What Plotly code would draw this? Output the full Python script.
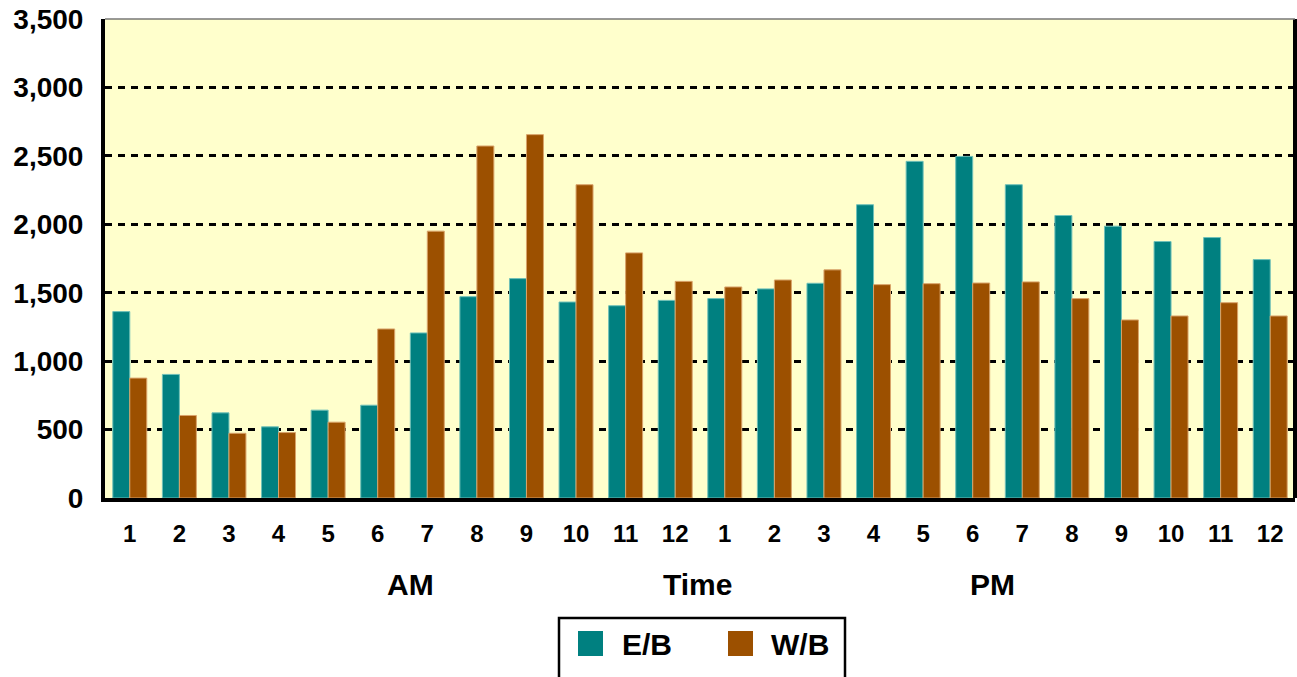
import plotly.graph_objects as go

hours = ["1","2","3","4","5","6","7","8","9","10","11","12",
         "1","2","3","4","5","6","7","8","9","10","11","12"]
eb = [1362, 903, 622, 520, 642, 678, 1206, 1471, 1603, 1432, 1405, 1444,
      1457, 1528, 1569, 2143, 2460, 2496, 2289, 2064, 1986, 1874, 1903, 1742]
wb = [876, 603, 473, 478, 554, 1235, 1950, 2572, 2655, 2289, 1791, 1583,
      1542, 1593, 1667, 1559, 1566, 1571, 1579, 1457, 1301, 1330, 1427, 1330]
series_names = ["E/B", "W/B"]
colors = ["#008080", "#9C5000"]
edge_colors = ["#6FC0B8", "#D9A36A"]
yticks = [0, 500, 1000, 1500, 2000, 2500, 3000, 3500]
period_labels = ["AM", "Time", "PM"]

xpos = list(range(len(hours)))
FONT = "Liberation Sans, Arial, sans-serif"

# pixel -> paper helpers (plot area: x 105..1295, y 19..498)
L, R, T, B = 105, 1295, 19, 498
def px(x):
    return (x - L) / (R - L)
def py(y):
    return (B - y) / (B - T)

fig = go.Figure()
for name, vals, c, ec in zip(series_names, [eb, wb], colors, edge_colors):
    fig.add_trace(go.Bar(x=xpos, y=vals, name=name, marker_color=c,
                         marker_line=dict(color=ec, width=1), showlegend=False))

shapes = [
    dict(type="line", xref="paper", yref="paper", x0=1, x1=1, y0=0, y1=1,
         line=dict(color="black", width=4)),
    dict(type="line", xref="paper", yref="paper", x0=0, x1=1, y0=1, y1=1,
         line=dict(color="#777777", width=1.5)),
    dict(type="rect", xref="paper", yref="paper", x0=px(559), x1=px(845),
         y0=py(618), y1=py(700), line=dict(color="black", width=2.5)),
]
annotations = []
for lbl, cx in zip(period_labels, [410, 697, 992]):
    annotations.append(dict(text=lbl, x=px(cx), y=py(585), xref="paper", yref="paper",
                            xanchor="center", yanchor="middle", showarrow=False,
                            font=dict(size=30, family=FONT, weight="bold")))

# manual legend
for name, c, sx, tx in zip(series_names, colors, [578, 728], [622, 771]):
    shapes.append(dict(type="rect", xref="paper", yref="paper",
                       x0=px(sx), x1=px(sx + 25), y0=py(656), y1=py(631),
                       fillcolor=c, line=dict(width=0)))
    annotations.append(dict(text=name, x=px(tx - 2), y=py(644), xref="paper", yref="paper",
                            xanchor="left", yanchor="middle", showarrow=False,
                            font=dict(size=30, family=FONT, weight="bold")))

fig.update_layout(
    width=1297, height=677,
    margin=dict(l=L, r=1297 - R, t=T, b=677 - B),
    paper_bgcolor="white", plot_bgcolor="#FFFFCC",
    barmode="group", bargap=0.315, bargroupgap=0,
    font=dict(family=FONT, color="black"),
    showlegend=False,
    xaxis=dict(range=[-0.5, 23.5], tickvals=xpos, ticktext=hours,
               showgrid=False, zeroline=False, showline=True,
               linecolor="black", linewidth=4, ticks="",
               tickfont=dict(size=24, family=FONT, weight="bold"),
               ticklabelstandoff=11),
    yaxis=dict(range=[0, 3500], tickvals=yticks,
               tickformat=",d", showgrid=True, gridcolor="black",
               gridwidth=2.5, griddash="7px,6px", zeroline=False,
               showline=True, linecolor="black", linewidth=4, ticks="",
               tickfont=dict(size=28, family=FONT, weight="bold"),
               ticklabelstandoff=12),
    shapes=shapes,
    annotations=annotations,
)

fig.write_html("out.html", post_script="document.body.style.margin='0';",
               config={"displayModeBar": False})
